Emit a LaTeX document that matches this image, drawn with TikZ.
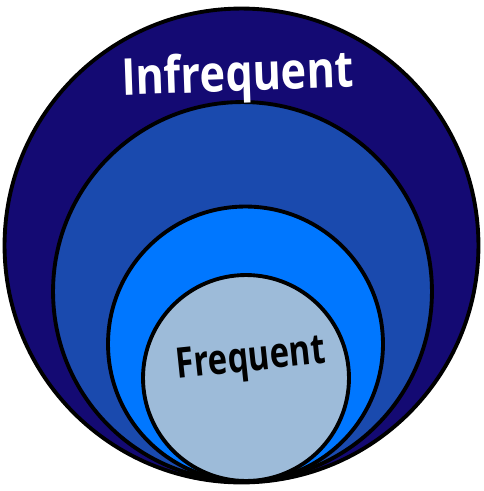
\documentclass[tikz,border=0pt]{standalone}
\usepackage{fontspec}
\setmainfont{Open Sans}
\definecolor{ringnavy}{HTML}{140A73}
\definecolor{ringroyal}{HTML}{1A4AAE}
\definecolor{ringazure}{HTML}{0077FF}
\definecolor{ringpale}{HTML}{9DBBD9}

\begin{document}
\begin{tikzpicture}[x=0.02cm,y=-0.02cm,
 ring/.style={draw=black,line width=2.2pt},
 lbl/.style={font=\bfseries\fontsize{29}{34}\selectfont,transform shape}]
\useasboundingbox (0,0) rectangle (484,491);
\filldraw[ring,fill=ringnavy] (241.5,245.5) circle [radius=4.74cm];
\filldraw[ring,fill=ringroyal] (242.5,291.5) circle [radius=3.79cm];
\filldraw[ring,fill=ringazure] (245.5,344) circle [radius=2.75cm];
\filldraw[ring,fill=ringpale] (246,378) circle [radius=2.06cm];
\node[lbl,white,rotate=2,xscale=0.85] (infreq) at (238,78) {Infrequent};
\node[lbl,black,rotate=6,xscale=0.78,font=\bfseries\fontsize{24}{28}\selectfont] (freq) at (251,361) {Frequent};
\end{tikzpicture}
\end{document}
